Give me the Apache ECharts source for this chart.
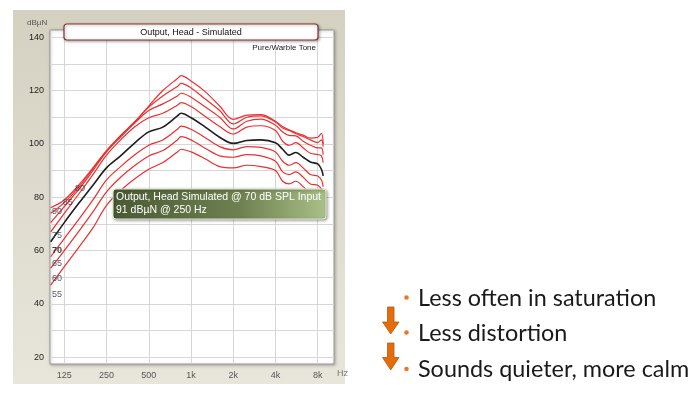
<!DOCTYPE html>
<html>
<head>
<meta charset="utf-8">
<script src="https://cdn.jsdelivr.net/npm/echarts@6/dist/echarts.min.js"></script>
<style>
  html, body { margin: 0; padding: 0; background: #fff; }
  #main { width: 698px; height: 394px; }
</style>
</head>
<body>
<div id="main"></div>
<script>
// frequencies (Hz) of the simulated output curves
var freqs = [100, 125, 160, 200, 250, 315, 400, 500, 630, 800, 850, 1000, 1250, 1600,
             2000, 2500, 3150, 4000, 4500, 5000, 5600, 6300, 7100, 8000, 8500, 8750];

// output in dBuN for each input level (dB SPL)
var out90 = [76.1, 79, 84.8, 91, 97.5, 103.2, 108.5, 114.2, 120, 124.5, 125.6, 123.6, 119.8, 114.2,
             109.2, 110.8, 111, 108.5, 106.5, 105.3, 104.2, 103.3, 102.2, 102.5, 104, 100];
var out85 = [74, 78, 84, 90.7, 97.3, 102.9, 108.3, 113.8, 118, 121.5, 122.7, 121, 117, 112.5,
             107.5, 110, 110.5, 108.2, 106, 105, 103.8, 102.8, 101.5, 100.5, 101.5, 99];
var out80 = [70.5, 76.5, 83.2, 90, 97, 102.6, 108, 112.5, 115, 118, 119, 117.5, 114, 110,
             105.6, 108.5, 109.3, 107, 104.5, 103.2, 103, 101, 99.5, 98.5, 98.5, 96];
var out75 = [67, 74, 81.5, 88.5, 95.8, 101.5, 106.5, 109.8, 111.5, 114.5, 115.5, 114, 110.5, 106.5,
             103.7, 106.3, 106.8, 105, 101, 99.5, 100.5, 98.5, 96.5, 96, 95.5, 93];
var out70 = [63.3, 70.5, 78, 84.5, 91, 95.5, 100.5, 104.5, 106.3, 110.5, 111.5, 109.8, 106.5, 102.5,
             100.2, 101.3, 101.5, 100.4, 98, 95.8, 96.8, 95, 93.2, 92.5, 90.5, 88];
var out65 = [57.7, 64.5, 72, 79, 86.5, 91.5, 96, 99.5, 101.5, 105.5, 106.7, 105.5, 102.5, 99,
             97.8, 99, 98.7, 97, 93.5, 92, 93, 91, 88.5, 88, 86.5, 84];
var out60 = [53.4, 60, 67.5, 74.5, 82, 87.5, 92, 95.5, 97.5, 101.5, 102.7, 101.5, 98.5, 95.5,
             95, 96, 95.5, 93.5, 89.5, 88.5, 89.5, 87.5, 85, 84.5, 83, 80];
var out55 = [47.1, 54, 61.5, 68.5, 77, 82.5, 87, 90.5, 93, 97, 98, 97, 94.5, 91.5,
             91, 92, 91.5, 90, 86, 85, 86, 84, 81.5, 81, 79.5, 77];

var levels = ['90', '85', '80', '75', '70', '65', '60', '55'];
var curves = [out90, out85, out80, out75, out70, out65, out60, out55];

// level labels near the start of the curves
var labelTexts = ['90', '85', '80', '75', '70', '65', '60', '55'];
var labelFreqs = [102, 122, 149, 102, 102, 102, 102, 102];
var labelDb = [74.5, 78.2, 83.1, 65.5, 60.2, 55.0, 49.7, 43.4];

// axis ticks
var xTickNames = ['125', '250', '500', '1k', '2k', '4k', '8k'];
var xTickOct = [0, 1, 2, 3, 4, 5, 6];
var yLabelValues = [20, 40, 60, 80, 100, 120, 140];
var yGridValues = [20, 30, 40, 50, 60, 70, 80, 90, 100, 110, 120, 130, 140];

function oct(f) { return Math.log(f / 125) / Math.LN2; }

var myChart = echarts.init(document.getElementById('main'));

var series = [];
for (var i = 0; i < curves.length; i++) {
    var pts = [];
    for (var j = 0; j < freqs.length; j++) {
        pts.push([oct(freqs[j]), curves[i][j]]);
    }
    series.push({
        name: levels[i],
        type: 'line',
        data: pts,
        smooth: 0.35,
        showSymbol: false,
        silent: true,
        z: levels[i] == '70' ? 4 : 3,
        lineStyle: {
            color: levels[i] == '70' ? '#1e1e1e' : '#ec2f2f',
            width: levels[i] == '70' ? 1.6 : 1.2
        }
    });
}

var labelPts = [];
for (var k = 0; k < labelTexts.length; k++) {
    labelPts.push({
        value: [oct(labelFreqs[k]), labelDb[k]],
        label: {
            formatter: labelTexts[k],
            fontWeight: labelTexts[k] == '70' ? 'bold' : 'normal',
            color: labelTexts[k] == '70' ? '#111' : '#2c3044'
        }
    });
}
series.push({
    type: 'scatter',
    data: labelPts,
    symbolSize: 0,
    silent: true,
    z: 5,
    label: {
        show: true,
        position: 'right',
        distance: 0,
        fontFamily: 'Liberation Sans',
        fontSize: 9
    }
});

var option = {
    animation: false,
    backgroundColor: '#ffffff',
    grid: {
        left: 50, top: 30, width: 284, height: 334,
        show: true,
        backgroundColor: '#ffffff',
        borderColor: '#999999',
        borderWidth: 1,
        shadowColor: 'rgba(0,0,0,0.25)',
        shadowBlur: 3,
        shadowOffsetX: 1,
        shadowOffsetY: 1
    },
    xAxis: {
        type: 'value',
        min: oct(98.9),
        max: oct(10450),
        axisLine: { show: false },
        axisTick: { show: false, customValues: xTickOct },
        axisLabel: {
            customValues: xTickOct,
            margin: 7,
            fontFamily: 'Liberation Sans',
            fontSize: 9,
            color: '#555',
            formatter: function (v) { return xTickNames[Math.round(v)]; }
        },
        splitLine: { show: true, lineStyle: { color: '#d6d6d6', width: 1 } }
    },
    yAxis: {
        type: 'value',
        min: 17.5,
        max: 142.7,
        axisLine: { show: false },
        axisTick: { show: false, customValues: yGridValues },
        axisLabel: {
            customValues: yLabelValues,
            margin: 6,
            fontFamily: 'Liberation Sans',
            fontSize: 9,
            color: '#222'
        },
        splitLine: { show: true, lineStyle: { color: '#d6d6d6', width: 1 } }
    },
    graphic: [
        {
            type: 'rect', z: -10, silent: true,
            shape: { x: 13, y: 10, width: 332, height: 374 },
            style: {
                fill: new echarts.graphic.LinearGradient(0, 0, 0, 1, [
                    { offset: 0, color: '#d4d1c1' },
                    { offset: 1, color: '#e8e6db' }
                ])
            }
        },
        {
            type: 'text', z: 10, silent: true,
            style: { x: 27, y: 23, text: 'dBµN', fill: '#555', font: '8px "Liberation Sans"', verticalAlign: 'middle' }
        },
        {
            type: 'text', z: 10, silent: true,
            style: { x: 337, y: 374, text: 'Hz', fill: '#777', font: '9px "Liberation Sans"', verticalAlign: 'middle' }
        },
        {
            type: 'rect', z: 20, silent: true,
            shape: { x: 64, y: 24, width: 254, height: 16, r: 3 },
            style: {
                fill: '#ffffff', stroke: '#8e3038', lineWidth: 1.2,
                shadowBlur: 3, shadowColor: 'rgba(0,0,0,0.35)', shadowOffsetX: 1, shadowOffsetY: 1
            }
        },
        {
            type: 'text', z: 21, silent: true,
            style: {
                x: 191, y: 32.5, text: 'Output, Head - Simulated', fill: '#111',
                font: '9px "Liberation Sans"', align: 'center', verticalAlign: 'middle'
            }
        },
        {
            type: 'text', z: 21, silent: true,
            style: {
                x: 316, y: 48, text: 'Pure/Warble Tone', fill: '#222',
                font: '8px "Liberation Sans"', align: 'right', verticalAlign: 'middle'
            }
        },
        // hover tooltip box
        {
            type: 'rect', z: 30, silent: true,
            shape: { x: 113, y: 189, width: 213, height: 30, r: 3 },
            style: {
                fill: new echarts.graphic.LinearGradient(0, 0, 1, 0, [
                    { offset: 0, color: '#4a5934' },
                    { offset: 0.6, color: '#6f8150' },
                    { offset: 1, color: '#a9c088' }
                ]),
                stroke: '#e4ecd2', lineWidth: 1,
                shadowBlur: 3, shadowColor: 'rgba(0,0,0,0.4)', shadowOffsetX: 1, shadowOffsetY: 1
            }
        },
        {
            type: 'text', z: 31, silent: true,
            style: {
                x: 116, y: 197.5, text: 'Output, Head Simulated @ 70 dB SPL Input', fill: '#fff',
                font: '10.5px "Liberation Sans"', verticalAlign: 'middle'
            }
        },
        {
            type: 'text', z: 31, silent: true,
            style: {
                x: 116, y: 210.5, text: '91 dBµN @ 250 Hz', fill: '#fff',
                font: '10.5px "Liberation Sans"', verticalAlign: 'middle'
            }
        },
        // bullet points on the right
        { type: 'circle', silent: true, shape: { cx: 406.5, cy: 297.5, r: 2.3 }, style: { fill: '#e8782e' } },
        { type: 'circle', silent: true, shape: { cx: 406.5, cy: 332.5, r: 2.3 }, style: { fill: '#e8782e' } },
        { type: 'circle', silent: true, shape: { cx: 406.5, cy: 369, r: 2.3 }, style: { fill: '#e8782e' } },
        {
            type: 'text', silent: true,
            style: { x: 418, y: 298, text: 'Less often in saturation', fill: '#1a1a1a', font: '23.4px Lato', verticalAlign: 'middle' }
        },
        {
            type: 'text', silent: true,
            style: { x: 418, y: 333, text: 'Less distortion', fill: '#1a1a1a', font: '23.4px Lato', verticalAlign: 'middle' }
        },
        {
            type: 'text', silent: true,
            style: { x: 418, y: 369, text: 'Sounds quieter, more calm', fill: '#1a1a1a', font: '23.4px Lato', verticalAlign: 'middle' }
        },
        // down arrows
        {
            type: 'polygon', silent: true,
            shape: { points: [[387.5, 307], [394, 307], [394, 322], [399, 322], [390.7, 334], [382.5, 322], [387.5, 322]] },
            style: { fill: '#e46c0a', stroke: '#b9590f', lineWidth: 0.8 }
        },
        {
            type: 'polygon', silent: true,
            shape: { points: [[387.5, 343], [394, 343], [394, 357.5], [399, 357.5], [390.7, 370], [382.5, 357.5], [387.5, 357.5]] },
            style: { fill: '#e46c0a', stroke: '#b9590f', lineWidth: 0.8 }
        }
    ],
    series: series
};
myChart.setOption(option);
</script>
</body>
</html>
